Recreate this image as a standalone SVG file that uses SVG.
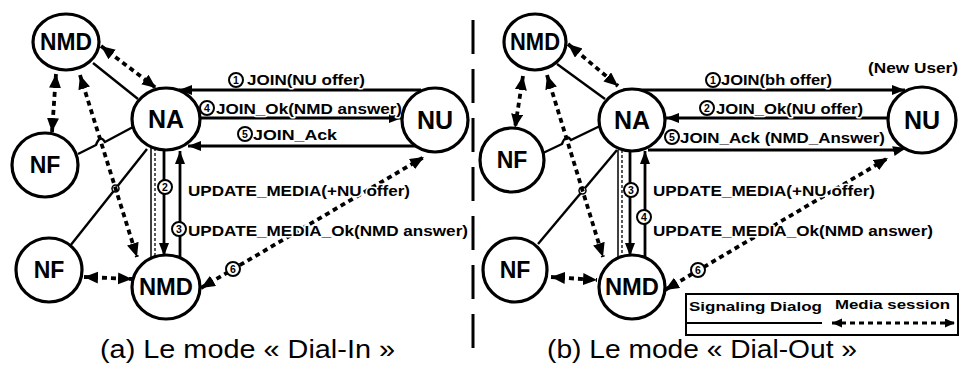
<svg xmlns="http://www.w3.org/2000/svg" width="960" height="369" viewBox="0 0 960 369">
<style>
.node{fill:#fff;stroke:#000;stroke-width:3.2}
.nt{font-family:"Liberation Sans",Arial,sans-serif;font-weight:bold;font-size:23px;text-anchor:middle;fill:#000}
.plain{fill:none;stroke:#000;stroke-width:2.4}
.sig{fill:none;stroke:#000;stroke-width:2.8;marker-end:url(#ah)}
.thin{fill:none;stroke:#000;stroke-width:1.5}
.thind{fill:none;stroke:#000;stroke-width:1.3;stroke-dasharray:3,2}
.media{fill:none;stroke:#000;stroke-width:3.8;stroke-dasharray:5,4;marker-start:url(#mh);marker-end:url(#mh)}
.lbl{font-family:"Liberation Sans",Arial,sans-serif;font-weight:bold;font-size:15.5px;fill:#000;paint-order:stroke;stroke:#fff;stroke-width:3px;stroke-linejoin:round}
.badge circle{fill:#fff;stroke:#000;stroke-width:2}
.badge text{font-family:"Liberation Sans",Arial,sans-serif;font-weight:bold;font-size:10.5px;text-anchor:middle;fill:#000}
.cap{font-family:"Liberation Sans",Arial,sans-serif;font-size:25px;fill:#000}
.leg{font-family:"Liberation Sans",Arial,sans-serif;font-weight:bold;font-size:13px;fill:#000}
</style>
<defs>
<marker id="ah" markerUnits="userSpaceOnUse" markerWidth="14" markerHeight="12" refX="13" refY="5" orient="auto"><path d="M0,0 L13,5 L0,10 z" fill="#000"/></marker>
<marker id="mh" markerUnits="userSpaceOnUse" markerWidth="16" markerHeight="14" refX="14" refY="6" orient="auto-start-reverse"><path d="M0,0 L14,6 L0,12 z" fill="#000"/></marker>
<marker id="mhs" markerUnits="userSpaceOnUse" markerWidth="12" markerHeight="10" refX="10" refY="4.5" orient="auto-start-reverse"><path d="M0,0 L10,4.5 L0,9 z" fill="#000"/></marker>
</defs>

<!-- divider -->
<line x1="473" y1="20" x2="473" y2="350" stroke="#000" stroke-width="3" stroke-dasharray="34,15"/>

<g id="connectors">
<!-- panel a: plain lines -->
<path class="plain" d="M93,63 L138,99"/>
<path class="plain" d="M78,154 L96,145 Q100,134 105,142 L133,127"/>
<path class="plain" d="M70,246 L147,149"/>
<circle cx="115.5" cy="188.5" r="3.5" fill="#fff" stroke="#000" stroke-width="1.5"/>
<!-- panel a: media -->
<path class="media" d="M101,46 L156,88"/>
<path class="media" d="M56,74 L52,132"/>
<path class="media" d="M80,75 L137,257"/>
<path class="media" d="M84,277 L132,279"/>
<path class="media" d="M201,288 L424,157"/>
<!-- panel a: signaling -->
<path class="thin" d="M151,147 L151,258"/>
<path class="thind" d="M155,148 L155,258"/>
<path class="sig" d="M164,150 L164,256"/>
<path class="sig" d="M180,258 L180,151"/>
<path class="sig" d="M421,90 L179,90"/>
<path class="sig" d="M200,118 L402,118"/>
<path class="sig" d="M417,146 L188,146"/>

<!-- panel b: plain lines -->
<path class="plain" d="M557,64 L605,99"/>
<path class="plain" d="M543,153 L562,144 Q566,133 571,140 L600,126"/>
<path class="plain" d="M538,244 L617,150"/>
<circle cx="582.5" cy="190.5" r="3.5" fill="#fff" stroke="#000" stroke-width="1.5"/>
<!-- panel b: media -->
<path class="media" d="M568,44 L618,86"/>
<path class="media" d="M523,76 L515,128"/>
<path class="media" d="M547,75 L603,257"/>
<path class="media" d="M551,277 L597,280"/>
<path class="media" d="M665,290 L888,158"/>
<!-- panel b: signaling -->
<path class="thin" d="M618,150 L618,259"/>
<path class="thind" d="M622,150 L622,259"/>
<path class="sig" d="M630,151 L630,256"/>
<path class="sig" d="M645,258 L645,151"/>
<path class="sig" d="M623,90 L905,90"/>
<path class="sig" d="M888,118 L666,118"/>
<path class="sig" d="M648,150 L898,150 L906,148"/>
</g>

<!-- labels panel a -->
<g id="labels-a">
<text class="lbl" x="247" y="85" textLength="118" lengthAdjust="spacingAndGlyphs">JOIN(NU offer)</text>
<text class="lbl" x="216" y="114" textLength="186" lengthAdjust="spacingAndGlyphs">JOIN_Ok(NMD answer)</text>
<text class="lbl" x="253" y="140" textLength="84" lengthAdjust="spacingAndGlyphs">JOIN_Ack</text>
<text class="lbl" x="188" y="196" textLength="222" lengthAdjust="spacingAndGlyphs">UPDATE_MEDIA(+NU offer)</text>
<text class="lbl" x="188" y="236" textLength="280" lengthAdjust="spacingAndGlyphs">UPDATE_MEDIA_Ok(NMD answer)</text>
<g class="badge"><circle cx="236" cy="80" r="7"/><text x="236" y="83.8">1</text></g>
<g class="badge"><circle cx="207" cy="108" r="7"/><text x="207" y="111.8">4</text></g>
<g class="badge"><circle cx="245" cy="134" r="7"/><text x="245" y="137.8">5</text></g>
<g class="badge"><circle cx="165" cy="187" r="7"/><text x="165" y="190.8">2</text></g>
<g class="badge"><circle cx="179" cy="229" r="7"/><text x="179" y="232.8">3</text></g>
<g class="badge"><circle cx="233" cy="269" r="7"/><text x="233" y="272.8">6</text></g>
</g>

<!-- labels panel b -->
<g id="labels-b">
<text class="lbl" x="721" y="85" textLength="111" lengthAdjust="spacingAndGlyphs">JOIN(bh offer)</text>
<text class="lbl" x="716" y="114" textLength="147" lengthAdjust="spacingAndGlyphs">JOIN_Ok(NU offer)</text>
<text class="lbl" x="680" y="143" textLength="205" lengthAdjust="spacingAndGlyphs">JOIN_Ack (NMD_Answer)</text>
<text class="lbl" x="653" y="196" textLength="222" lengthAdjust="spacingAndGlyphs">UPDATE_MEDIA(+NU offer)</text>
<text class="lbl" x="653" y="236" textLength="280" lengthAdjust="spacingAndGlyphs">UPDATE_MEDIA_Ok(NMD answer)</text>
<text class="lbl" x="868" y="73" textLength="90" lengthAdjust="spacingAndGlyphs">(New User)</text>
<g class="badge"><circle cx="713" cy="80" r="7"/><text x="713" y="83.8">1</text></g>
<g class="badge"><circle cx="707" cy="108" r="7"/><text x="707" y="111.8">2</text></g>
<g class="badge"><circle cx="672" cy="137" r="7"/><text x="672" y="140.8">5</text></g>
<g class="badge"><circle cx="631" cy="190" r="7"/><text x="631" y="193.8">3</text></g>
<g class="badge"><circle cx="644" cy="217" r="7"/><text x="644" y="220.8">4</text></g>
<g class="badge"><circle cx="698" cy="270" r="7"/><text x="698" y="273.8">6</text></g>
</g>

<!-- nodes panel a -->
<g id="a-nmd-top"><ellipse class="node" cx="66" cy="42" rx="33" ry="28"/><text class="nt" x="66" y="50" textLength="52" lengthAdjust="spacingAndGlyphs">NMD</text></g>
<g id="a-na"><ellipse class="node" cx="166" cy="119" rx="34" ry="31"/><text class="nt" x="166" y="128" style="font-size:25px">NA</text></g>
<g id="a-nf-top"><ellipse class="node" cx="45" cy="165" rx="33" ry="32"/><text class="nt" x="45" y="173">NF</text></g>
<g id="a-nf-bottom"><ellipse class="node" cx="49" cy="270" rx="33" ry="32"/><text class="nt" x="49" y="278">NF</text></g>
<g id="a-nmd-bottom"><ellipse class="node" cx="166" cy="287" rx="34" ry="32"/><text class="nt" x="166" y="295" textLength="54" lengthAdjust="spacingAndGlyphs">NMD</text></g>
<g id="a-nu"><ellipse class="node" cx="435" cy="120" rx="33" ry="32"/><text class="nt" x="435" y="129" style="font-size:25px">NU</text></g>

<!-- nodes panel b -->
<g id="b-nmd-top"><ellipse class="node" cx="535" cy="42" rx="31" ry="28"/><text class="nt" x="535" y="50" textLength="50" lengthAdjust="spacingAndGlyphs">NMD</text></g>
<g id="b-na"><ellipse class="node" cx="632" cy="120" rx="33" ry="31"/><text class="nt" x="632" y="129" style="font-size:25px">NA</text></g>
<g id="b-nf-top"><ellipse class="node" cx="512" cy="160" rx="32" ry="32"/><text class="nt" x="512" y="168">NF</text></g>
<g id="b-nf-bottom"><ellipse class="node" cx="515" cy="270" rx="32" ry="32"/><text class="nt" x="515" y="278">NF</text></g>
<g id="b-nmd-bottom"><ellipse class="node" cx="632" cy="287" rx="33" ry="32"/><text class="nt" x="632" y="295" textLength="54" lengthAdjust="spacingAndGlyphs">NMD</text></g>
<g id="b-nu"><ellipse class="node" cx="922" cy="120" rx="34" ry="33"/><text class="nt" x="922" y="129" style="font-size:25px">NU</text></g>

<!-- legend -->
<g id="legend">
<rect x="686" y="294" width="272" height="41" fill="#fff" stroke="#000" stroke-width="2"/>
<text class="leg" x="689" y="311" textLength="133" lengthAdjust="spacingAndGlyphs">Signaling Dialog</text>
<text class="leg" x="835" y="309" textLength="115" lengthAdjust="spacingAndGlyphs">Media session</text>
<line x1="687" y1="323" x2="822" y2="323" stroke="#000" stroke-width="2"/>
<line x1="832" y1="323" x2="955" y2="323" stroke="#000" stroke-width="3" stroke-dasharray="5,4" marker-start="url(#mhs)" marker-end="url(#mhs)"/>
</g>

<!-- captions -->
<text class="cap" x="100" y="358" textLength="295" lengthAdjust="spacingAndGlyphs">(a) Le mode « Dial-In »</text>
<text class="cap" x="547" y="358" textLength="310" lengthAdjust="spacingAndGlyphs">(b) Le mode « Dial-Out »</text>
</svg>
